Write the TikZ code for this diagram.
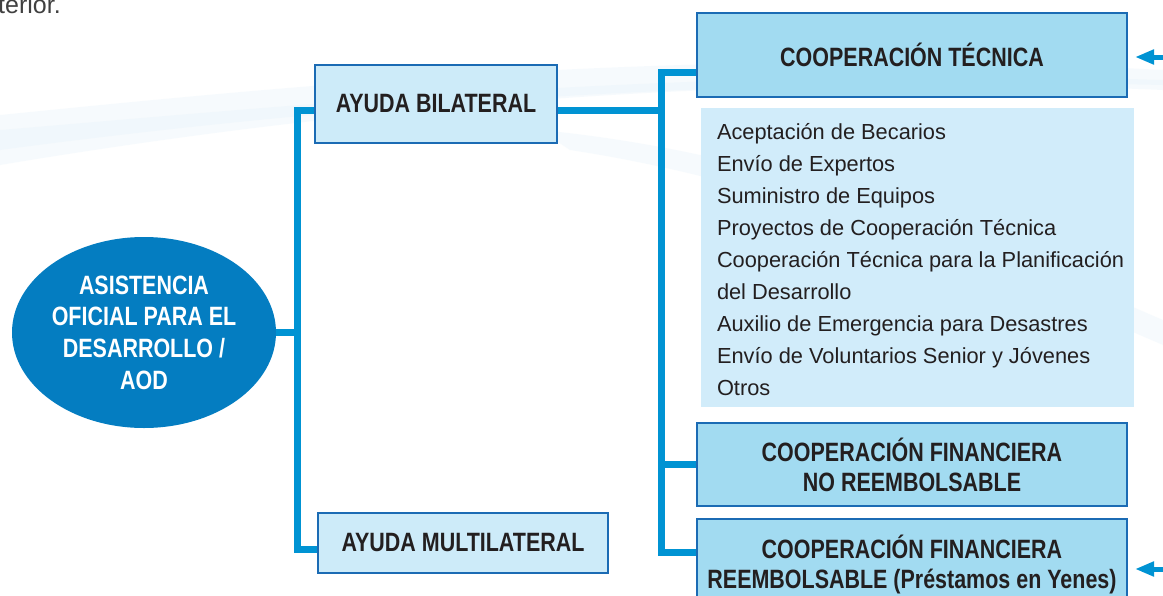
\documentclass[tikz,border=0pt]{standalone}
\usepackage{fontspec}
\setmainfont{Liberation Sans}
\newfontfamily\hdrfont[FakeStretch=0.81]{Liberation Sans}
\usetikzlibrary{arrows.meta,shapes.geometric,calc}
\definecolor{connc}{HTML}{0093D3}
\definecolor{aodfill}{HTML}{047DC1}
\definecolor{bordc}{HTML}{1B6BB4}
\definecolor{hdrfill}{HTML}{A2DBF1}
\definecolor{ayfill}{HTML}{CDEBF9}
\definecolor{lstfill}{HTML}{D1ECFA}
\definecolor{txt}{HTML}{231F20}
\definecolor{swoosh}{HTML}{E4F1FA}
\begin{document}
\begin{tikzpicture}[x=1pt,y=-1pt,
  conn/.style={draw=connc, line width=7pt, line join=miter},
  arr/.style={draw=connc, line width=5pt, -{Triangle[length=19pt,width=14pt]}},
  boxbase/.style={rectangle, draw=bordc, line width=2pt, text=txt, align=center, inner sep=0pt,
    font=\hdrfont\bfseries\fontsize{26.5}{30}\selectfont},
  hdr/.style={boxbase, fill=hdrfill},
  ayuda/.style={boxbase, fill=ayfill},
  lstbox/.style={rectangle, fill=lstfill, inner sep=0pt},
  item/.style={anchor=base west, inner sep=0pt, text=txt, font=\fontsize{21.8}{32}\selectfont},
  aodstyle/.style={ellipse, fill=aodfill, text=white, align=center, inner sep=0pt,
    font=\hdrfont\bfseries\fontsize{26.5}{31.7}\selectfont},
  bg/.style={fill=swoosh, opacity=0.3}]
\useasboundingbox (0,0) rectangle (1163,595);
\fill[white] (0,0) rectangle (1163,595);
% faint background swooshes
\fill[bg] (0,115) .. controls (300,85) and (700,45) .. (1163,70) -- (1163,90) .. controls (700,70) and (300,115) .. (0,165) -- cycle;
\fill[bg] (0,130) .. controls (300,105) and (700,65) .. (1163,80) -- (1163,85) .. controls (700,75) and (300,110) .. (0,150) -- cycle;
\fill[bg] (540,130) .. controls (800,155) and (1000,250) .. (1163,320) -- (1163,345) .. controls (1000,275) and (800,185) .. (570,150) -- cycle;

\node[anchor=base west, inner sep=0pt, text=black!75, font=\fontsize{25}{25}\selectfont] (prev) at (-2,13) {terior.};

% nodes
\node[aodstyle, minimum width=264, minimum height=191] (aod) at (144,332.5) {ASISTENCIA\\OFICIAL PARA EL\\DESARROLLO /\\AOD};
\node[ayuda, minimum width=242, minimum height=78] (bil) at (436,104) {AYUDA BILATERAL};
\node[ayuda, minimum width=290, minimum height=60] (mul) at (463,543) {AYUDA MULTILATERAL};
\node[hdr, minimum width=430, minimum height=84] (ct) at (912,55) {COOPERACIÓN TÉCNICA};
\node[lstbox, minimum width=433, minimum height=299] (lst) at (917.5,257.5) {};
\foreach \t [count=\i from 0] in {Aceptación de Becarios, Envío de Expertos, Suministro de Equipos,
  Proyectos de Cooperación Técnica, Cooperación Técnica para la Planificación, del Desarrollo,
  Auxilio de Emergencia para Desastres, Envío de Voluntarios Senior y Jóvenes, Otros}
  \node[item] (it\i) at ($(lst.north west)+(16,{31.5+32*\i})$) {\t};
\node[hdr, minimum width=430, minimum height=83] (cfnr) at (912,464.5) {COOPERACIÓN FINANCIERA\\NO REEMBOLSABLE};
\node[hdr, minimum width=430, minimum height=90] (crb) at (912,564) {COOPERACIÓN FINANCIERA\\REEMBOLSABLE (Préstamos en Yenes)};

% connector junctions
\coordinate (lj) at (297,332.5);
\coordinate (lt) at (297,110);
\coordinate (lb) at (297,549);
\coordinate (rt) at (661,72);
\coordinate (rm) at (661,110);
\coordinate (rb) at (661,552);
\coordinate (a1) at (1180,57);
\coordinate (a2) at (1180,569);

% connectors
\draw[conn] (aod.east) -- (lj);
\draw[conn] (bil.west |- lt) -- (lt) -- (lb) -- (mul.west |- lb);
\draw[conn] (ct.west |- rt) -- (rt) -- (rb) -- (crb.west |- rb);
\draw[conn] (bil.east |- rm) -- (rm);
\draw[conn] (cfnr.west) -- (cfnr.west -| rt);
\draw[arr] (a1) -- ($(ct.east)+(7,2)$);
\draw[arr] (a2) -- ($(crb.east)+(7,5)$);
\end{tikzpicture}
\end{document}
